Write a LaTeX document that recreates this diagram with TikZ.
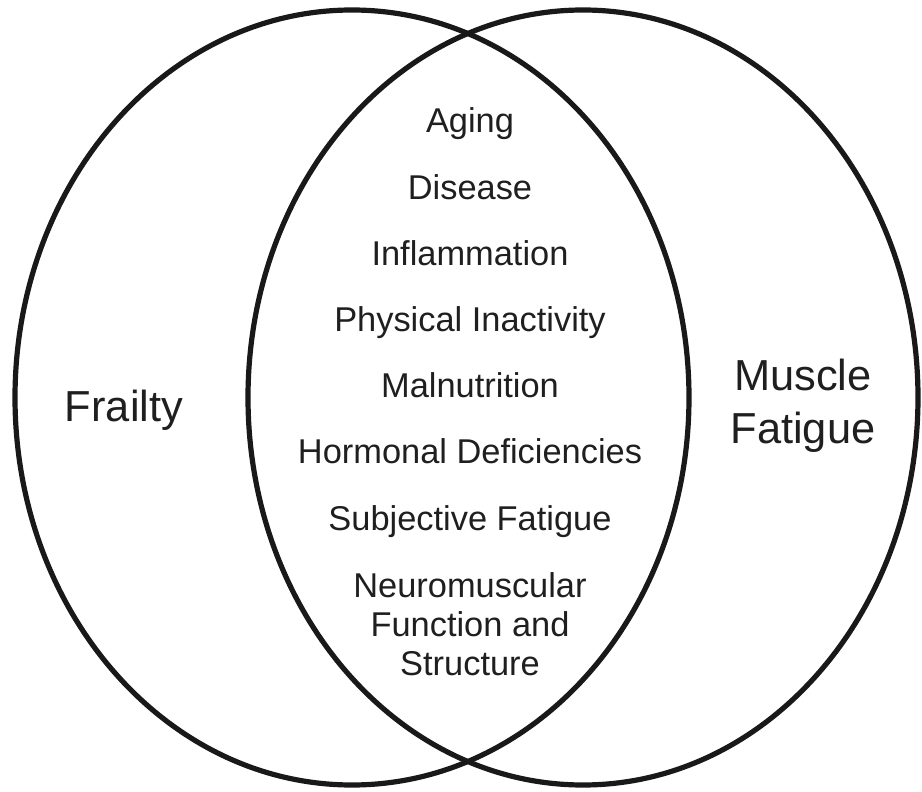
\documentclass[tikz,border=0pt]{standalone}
\usepackage{fontspec}
\setmainfont{Liberation Sans}
\begin{document}
\begin{tikzpicture}[x=0.5pt,y=-0.5pt,
  ring/.style={draw=black!90, line width=2.6pt},
  factor/.style={anchor=base, inner sep=0pt, text=black!88,
    font=\fontsize{17.2pt}{20pt}\selectfont},
  setname/.style={anchor=base, inner sep=0pt, text=black!88,
    font=\fontsize{21.7pt}{26pt}\selectfont}]
\useasboundingbox (0,0) rectangle (922,792);
% the two overlapping sets
\draw[ring] (352,397.5) ellipse [x radius=168.5pt, y radius=193.75pt];
\draw[ring] (583,397.5) ellipse [x radius=167.5pt, y radius=193.75pt];
% set names
\node[setname] (frailty) at (124,421) {Frailty};
\node[setname] (muscle) at (803,390) {Muscle};
\node[setname] (fatigue) at (803,443) {Fatigue};
% shared factors in the overlap
\node[factor] (aging) at (470,133) {Aging};
\node[factor] (disease) at (470,199) {Disease};
\node[factor] (inflam) at (470,265) {Inflammation};
\node[factor] (inact) at (470,331) {Physical Inactivity};
\node[factor] (malnut) at (470,397.5) {Malnutrition};
\node[factor] (hormone) at (470,463) {Hormonal Deficiencies};
\node[factor] (subj) at (470,530) {Subjective Fatigue};
\node[factor] (neuro1) at (470,597) {Neuromuscular};
\node[factor] (neuro2) at (470,636) {Function and};
\node[factor] (neuro3) at (470,675) {Structure};
\end{tikzpicture}
\end{document}
